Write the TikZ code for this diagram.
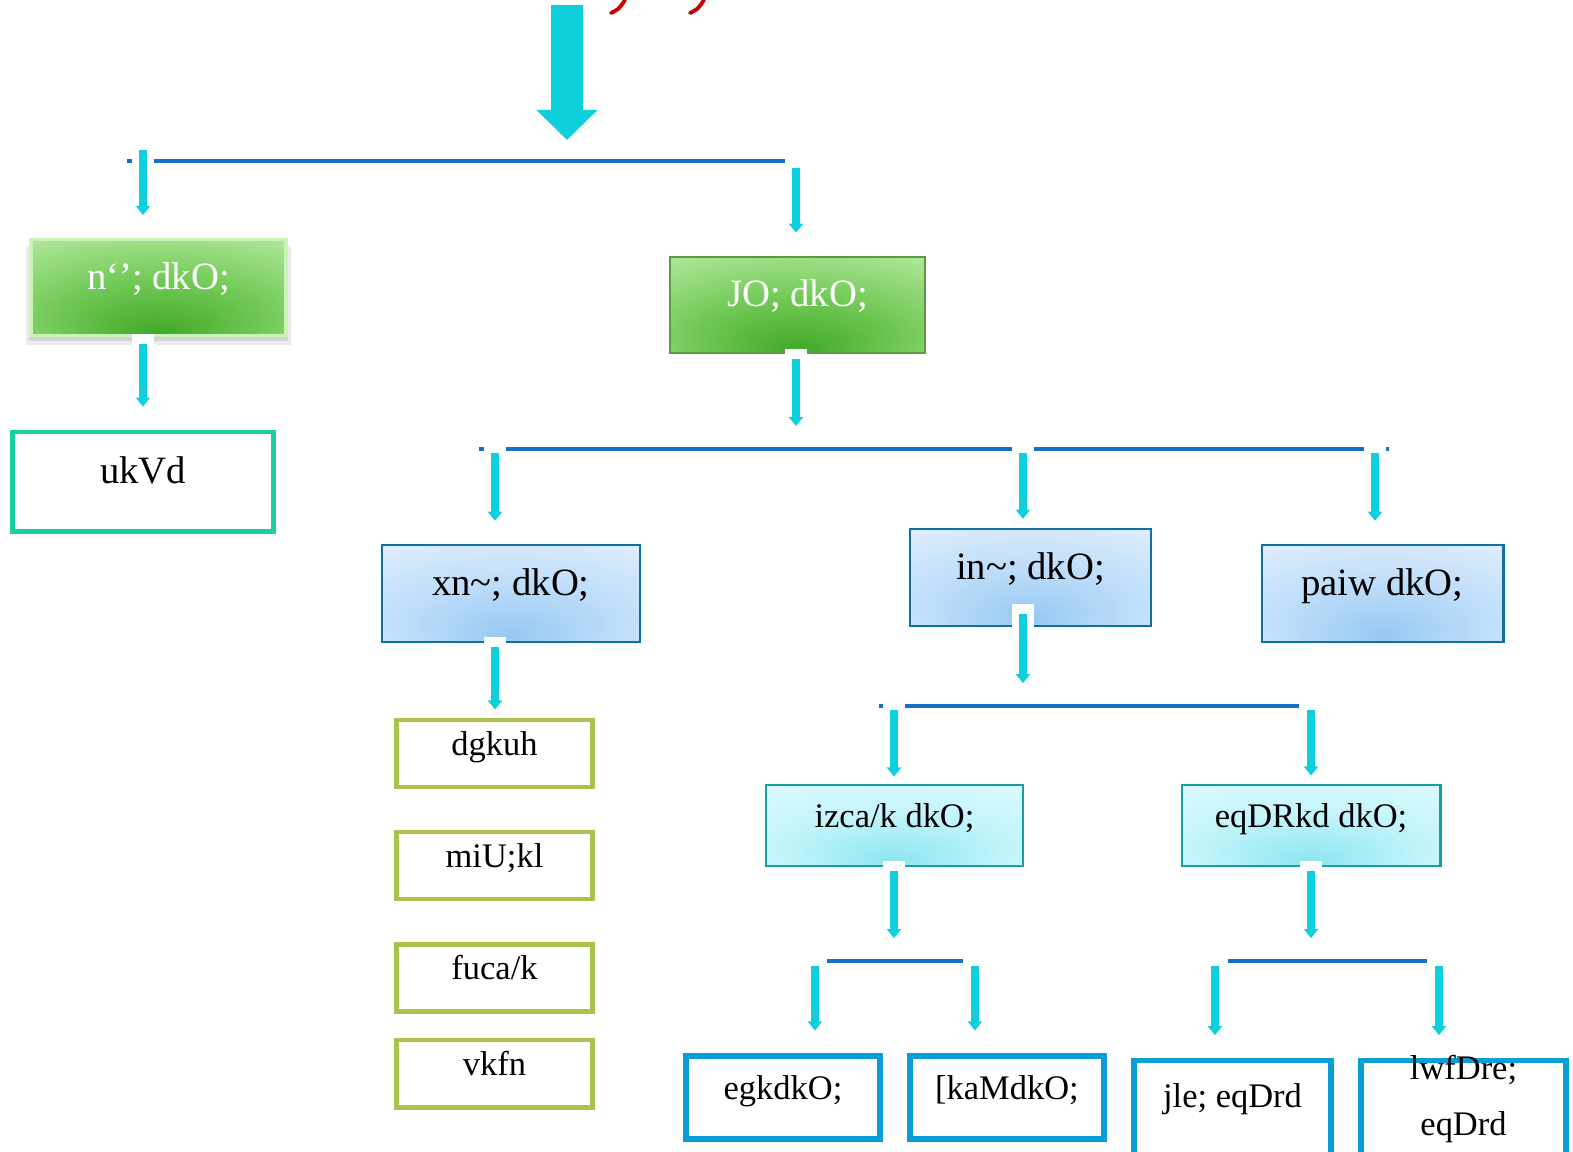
\documentclass[tikz,border=0pt]{standalone}
\usepackage{fontspec}
\setmainfont{Liberation Serif}
\usetikzlibrary{arrows.meta, calc, shadows}
\definecolor{feedcyan}{RGB}{14,208,220}
\definecolor{barblue}{RGB}{22,112,200}
\definecolor{redink}{RGB}{200,0,0}
\definecolor{greenrim}{RGB}{200,244,184}
\definecolor{greenedge}{RGB}{92,155,68}
\definecolor{natakedge}{RGB}{22,208,160}
\definecolor{blueedge}{RGB}{18,112,160}
\definecolor{cyanedge}{RGB}{20,160,166}
\definecolor{oliveedge}{RGB}{168,196,76}
\definecolor{leafedge}{RGB}{8,158,216}
\definecolor{glowdark}{RGB}{64,168,40}
\definecolor{glowmid}{RGB}{112,200,84}
\definecolor{glowlight}{RGB}{198,242,178}
\definecolor{bluedark}{RGB}{150,200,242}
\definecolor{bluemid}{RGB}{192,222,250}
\definecolor{bluelight}{RGB}{234,244,254}
\definecolor{cyandark}{RGB}{140,230,240}
\definecolor{cyanmid}{RGB}{194,244,250}
\definecolor{cyanlight}{RGB}{232,252,254}
\pgfdeclareradialshading{greenglow}{\pgfpoint{0bp}{-24bp}}{color(0bp)=(glowdark); color(20bp)=(glowmid); color(50bp)=(glowlight); color(70bp)=(glowlight)}
\pgfdeclareradialshading{blueglow}{\pgfpoint{0bp}{-22bp}}{color(0bp)=(bluedark); color(22bp)=(bluemid); color(50bp)=(bluelight); color(70bp)=(bluelight)}
\pgfdeclareradialshading{cyanglow}{\pgfpoint{0bp}{-22bp}}{color(0bp)=(cyandark); color(22bp)=(cyanmid); color(50bp)=(cyanlight); color(70bp)=(cyanlight)}
\newcommand{\bigtxt}{\fontsize{11pt}{13pt}\selectfont}
\newcommand{\smalltxt}{\fontsize{9.8pt}{12pt}\selectfont}

\begin{document}
\begin{tikzpicture}[x=0.01cm, y=-0.01cm,
    box/.style={draw, rectangle, inner sep=0pt, text height=0.22cm, text depth=0.19cm, align=center},
    greenbox/.style={box, shade, shading=greenglow, text=white, font=\bigtxt, minimum width=2.55cm, minimum height=0.96cm},
    bluebox/.style={box, draw=blueedge, line width=0.8pt, shade, shading=blueglow, font=\bigtxt, minimum width=2.41cm, minimum height=0.97cm},
    cyanbox/.style={box, draw=cyanedge, line width=0.8pt, shade, shading=cyanglow, font=\smalltxt, minimum width=2.57cm, minimum height=0.81cm},
    olivebox/.style={box, draw=oliveedge, line width=1.4pt, fill=white, font=\smalltxt, minimum width=1.95cm, minimum height=0.67cm},
    leafbox/.style={box, draw=leafedge, line width=1.5pt, fill=white, font=\smalltxt, minimum width=1.94cm, minimum height=0.83cm},
    bar/.style={draw=barblue, line width=1.4pt},
    feed/.style={draw=feedcyan, line width=2.5pt, -{Triangle[length=2.6pt, width=4pt]}, shorten >=#1,
        preaction={draw=white, line width=6.3pt, -, shorten <=-3pt, shorten >=#1}},
    feed/.default=6.5pt,
    bigfeed/.style={draw=feedcyan, line width=9.1pt, -{Triangle[length=8.6pt, width=17pt]}}]
    \useasboundingbox (0,0) rectangle (1573,1151);
    \clip (0,0) rectangle (1573,1151);
    \fill[white] (0,0) rectangle (1573,1151);

    % cut-off heading above the picture
    \draw[redink, line width=1.1pt, line cap=round] (611,13) .. controls (619,9) .. (625,0);
    \draw[redink, line width=1.1pt, line cap=round] (690,13) .. controls (698,9) .. (704,0);
    \coordinate (srcTop) at (567,5);
    \coordinate (srcTip) at (567,140);
    \draw[bigfeed] (srcTop) -- (srcTip);

    % first level
    \fill[black, opacity=0.08] (26,246) rectangle (291,345);
    \fill[black, opacity=0.1] (29,244) rectangle (288,341);
    \node[greenbox, draw=greenrim, line width=0.9pt] (drishya) at (158.5,287.5) {n`'; dkO;};
    \node[greenbox, draw=greenedge, line width=0.8pt] (shravya) at (797.5,305) {JO; dkO;};
    \node[box, draw=natakedge, line width=1.4pt, fill=white, font=\bigtxt, minimum width=2.6cm, minimum height=0.99cm] (natak) at (143,481.5) {ukVd};

    % second level
    \node[bluebox, minimum width=2.58cm] (gadya) at (511,593.5) {xn\textasciitilde; dkO;};
    \node[bluebox] (padya) at (1030.5,577.5) {in\textasciitilde; dkO;};
    \node[bluebox] (champu) at (1382.5,593.5) {paiw dkO;};

    \node[olivebox] (kahani) at (494.5,753.5) {dgkuh};
    \node[olivebox] (upanyas) at (494.5,865.5) {miU;kl};
    \node[olivebox] (nibandh) at (494.5,978) {fuca/k};
    \node[olivebox] (aadi) at (494.5,1073.5) {vkfn};

    \node[cyanbox] (prabandh) at (894.5,825.5) {izca/k dkO;};
    \node[cyanbox, minimum width=2.58cm] (muktak) at (1311,825.5) {eqDRkd dkO;};

    \node[leafbox] (mahakavya) at (783,1097.5) {egkdkO;};
    \node[leafbox] (khandkavya) at (1007,1097.5) {[kaMdkO;};
    \node[leafbox, anchor=north, minimum width=1.97cm, minimum height=0cm, text height=0.47cm, text depth=0.7cm] (rasmay) at (1232.5,1058) {jle; eqDrd};
    \node[leafbox, anchor=north, minimum width=2.05cm, minimum height=0cm, text height=0.75cm, text depth=0.45cm, font=\fontsize{9.8pt}{16pt}\selectfont] (suktimay) at (1463.5,1058) {lwfDre;\\eqDrd};

    % bars
    \coordinate (b1w) at (127,161);
    \coordinate (b1e) at (785,161);
    \coordinate (b2w) at (479,449);
    \coordinate (b2e) at (1389,449);
    \coordinate (b3w) at (879,706);
    \coordinate (b3e) at (1299,706);
    \coordinate (b4aw) at (827,961);
    \coordinate (b4ae) at (963,961);
    \coordinate (b4bw) at (1228,961);
    \coordinate (b4be) at (1427,961);
    \draw[bar] (b1w) -- (b1e);
    \draw[bar] (b2w) -- (b2e);
    \draw[bar] (b3w) -- (b3e);
    \draw[bar] (b4aw) -- (b4ae);
    \draw[bar] (b4bw) -- (b4be);

    % taps on the bars
    \coordinate (tapD) at (143,150);
    \coordinate (tapS) at (796,168);
    \coordinate (tapG) at (495,453);
    \coordinate (tapP) at (1023,453);
    \coordinate (tapC) at (1375,453);
    \coordinate (tapPr) at (894,710);
    \coordinate (tapM) at (1311,710);
    \coordinate (tapMh) at (815,966);
    \coordinate (tapK) at (975,966);
    \coordinate (tapR) at (1215,966);
    \coordinate (tapSk) at (1439,966);

    \draw[feed] (tapD) -- (tapD |- drishya.north);
    \draw[feed] (tapS) -- (tapS |- shravya.north);
    \draw[feed] ($(tapD |- drishya.south)+(0,7)$) -- (tapD |- natak.north);
    \draw[feed] ($(tapS |- shravya.south)+(0,5)$) -- (tapS |- b2w);

    \draw[feed] (tapG) -- (tapG |- gadya.north);
    \draw[feed=2.5pt] (tapP) -- (tapP |- padya.north);
    \draw[feed] (tapC) -- (tapC |- champu.north);
    \draw[feed=2.3pt] ($(tapG |- gadya.south)+(0,4)$) -- (tapG |- kahani.north);
    \draw[feed] ($(tapP |- padya.south)+(0,-13)$) -- (tapP |- b3w);

    \draw[feed=2pt] (tapPr) -- (tapPr |- prabandh.north);
    \draw[feed=2.3pt] (tapM) -- (tapM |- muktak.north);
    \draw[feed] ($(tapPr |- prabandh.south)+(0,4)$) -- (tapPr |- b4aw);
    \draw[feed] ($(tapM |- muktak.south)+(0,4)$) -- (tapM |- b4bw);

    \draw[feed] (tapMh) -- (tapMh |- mahakavya.north);
    \draw[feed] (tapK) -- (tapK |- khandkavya.north);
    \draw[feed] (tapR) -- (tapR |- rasmay.north);
    \draw[feed] (tapSk) -- (tapSk |- suktimay.north);
\end{tikzpicture}
\end{document}
